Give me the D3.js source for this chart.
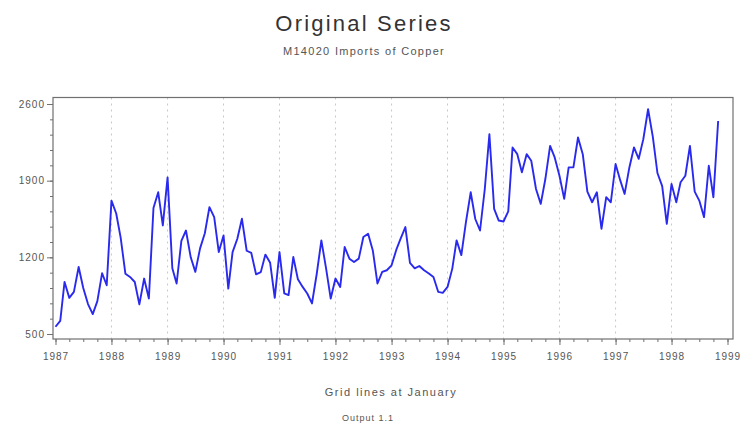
<!DOCTYPE html>
<html>
<head>
<meta charset="utf-8">
<script src="https://cdn.jsdelivr.net/npm/d3@7"></script>
<style>
  body { margin: 0; background: #fff; }
  text { font-family: 'Liberation Sans', Arial, sans-serif; }
</style>
</head>
<body>
<div id="chart"></div>
<script>
// Monthly imports of copper, Jan 1987 .. Nov 1998
const startMonth = new Date(1987, 0, 1);
const copperImports = [
  566, 620, 975, 830, 885, 1112, 920, 773, 682, 800, 1055, 945,
  1718, 1600, 1380, 1050, 1021, 975, 770, 1006, 824, 1650, 1794, 1491,
  1930, 1100, 961, 1350, 1445, 1200, 1067, 1282, 1420, 1658, 1567, 1248,
  1400, 915, 1248, 1370, 1552, 1260, 1240, 1045, 1065, 1225, 1150, 830,
  1248, 870, 855, 1203, 1000, 930, 870, 779, 1050, 1355, 1097, 824,
  1006, 930, 1294, 1188, 1157, 1188, 1385, 1415, 1260, 961, 1067, 1082,
  1127, 1270, 1370, 1476, 1150, 1100, 1121, 1082, 1052, 1021, 885, 876,
  930, 1097, 1355, 1220, 1521, 1794, 1550, 1445, 1824, 2324, 1642, 1536,
  1527, 1620, 2203, 2142, 1976, 2142, 2082, 1824, 1688, 1915, 2218, 2112,
  1945, 1734, 2021, 2021, 2294, 2142, 1800, 1703, 1794, 1461, 1750, 1703,
  2052, 1900, 1779, 2021, 2203, 2100, 2279, 2552, 2300, 1970, 1850, 1506,
  1870, 1703, 1885, 1945, 2218, 1800, 1718, 1567, 2036, 1748, 2445
];
const yTicks = [500, 1200, 1900, 2600];
const yMinorStep = 140;
const xDomainYears = [1987, 1999];

const width = 740;
const height = 424;
const frame = { left: 53, right: 733, top: 97.5, bottom: 339 };

const data = copperImports.map((v, i) => ({
  date: d3.timeMonth.offset(startMonth, i),
  value: v
}));

const svg = d3.select('#chart')
  .append('svg')
  .attr('width', width)
  .attr('height', height);

const x = d3.scaleTime()
  .domain(xDomainYears.map(y => new Date(y, 0, 1)))
  .range([55.5, 727.5]);

const y = d3.scaleLinear()
  .domain([yTicks[0], yTicks[yTicks.length - 1]])
  .range([334, 104]);

// vertical grid lines at each January
const years = d3.timeYear.range(new Date(1988, 0, 1), new Date(1999, 0, 1));
svg.append('g')
  .selectAll('line')
  .data(years)
  .enter()
  .append('line')
  .attr('x1', d => x(d))
  .attr('x2', d => x(d))
  .attr('y1', frame.top)
  .attr('y2', frame.bottom)
  .style('stroke', '#c8c8c8')
  .style('stroke-width', '1px')
  .style('stroke-dasharray', '2,4');

// frame
svg.append('rect')
  .attr('x', frame.left)
  .attr('y', frame.top)
  .attr('width', frame.right - frame.left)
  .attr('height', frame.bottom - frame.top)
  .attr('fill', 'none')
  .style('stroke', '#707070')
  .style('stroke-width', '1.2px');

// x axis: quarterly minor ticks, yearly major ticks
const xMinor = svg.append('g')
  .attr('transform', 'translate(0,' + frame.bottom + ')')
  .call(d3.axisBottom(x).ticks(d3.timeMonth.every(3)).tickSize(3).tickFormat(''));
const xMajor = svg.append('g')
  .attr('transform', 'translate(0,' + frame.bottom + ')')
  .call(d3.axisBottom(x).ticks(d3.timeYear.every(1)).tickSize(6).tickFormat(d3.timeFormat('%Y')));

// y axis: major and minor ticks
const yMinor = svg.append('g')
  .attr('transform', 'translate(' + frame.left + ',0)')
  .call(d3.axisLeft(y).tickValues(d3.range(yTicks[0], yTicks[yTicks.length - 1] + 1, yMinorStep)).tickSize(3).tickFormat(''));
const yMajor = svg.append('g')
  .attr('transform', 'translate(' + frame.left + ',0)')
  .call(d3.axisLeft(y).tickValues(yTicks).tickSize(6).tickFormat(d3.format('d')));

[xMinor, xMajor, yMinor, yMajor].forEach(g => {
  g.select('.domain').remove();
  g.selectAll('.tick line').style('stroke', '#707070');
});

xMajor.selectAll('.tick text')
  .attr('y', 14)
  .style('font-size', '10px')
  .style('letter-spacing', '1px')
  .attr('fill', '#555');
yMajor.selectAll('.tick text')
  .attr('x', -8)
  .style('font-size', '10px')
  .style('letter-spacing', '1px')
  .attr('fill', '#555');

// series line
const line = d3.line()
  .x(d => x(d.date))
  .y(d => y(d.value));

svg.append('path')
  .datum(data)
  .attr('d', line)
  .attr('fill', 'none')
  .style('stroke', '#2a2aee')
  .style('stroke-width', '1.9px')
  .style('stroke-linejoin', 'round');

// titles
svg.append('text')
  .attr('x', 364)
  .attr('y', 31)
  .attr('text-anchor', 'middle')
  .style('font-size', '22px')
  .style('letter-spacing', '2.2px')
  .attr('fill', '#333')
  .text('Original Series');

svg.append('text')
  .attr('x', 364)
  .attr('y', 55)
  .attr('text-anchor', 'middle')
  .style('font-size', '11px')
  .style('letter-spacing', '1.3px')
  .attr('fill', '#555')
  .text('M14020 Imports of Copper');

svg.append('text')
  .attr('x', 391)
  .attr('y', 396)
  .attr('text-anchor', 'middle')
  .style('font-size', '11px')
  .style('letter-spacing', '1.5px')
  .attr('fill', '#555')
  .text('Grid lines at January');

svg.append('text')
  .attr('x', 368)
  .attr('y', 421)
  .attr('text-anchor', 'middle')
  .style('font-size', '9px')
  .style('letter-spacing', '1px')
  .attr('fill', '#555')
  .text('Output 1.1');
</script>
</body>
</html>
